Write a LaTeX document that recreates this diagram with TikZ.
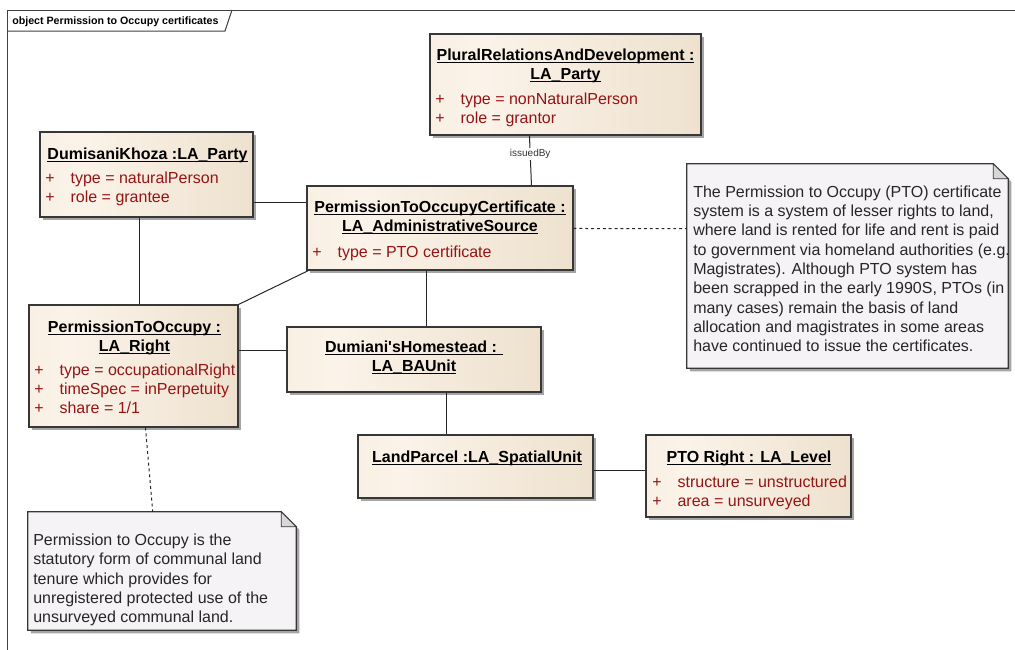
\documentclass[tikz,border=0pt]{standalone}
\usepackage{fontspec}
\setmainfont{Liberation Sans}
\usetikzlibrary{calc,shadows}

\definecolor{objL}{RGB}{245,232,216}
\definecolor{objM}{RGB}{251,243,233}
\definecolor{objR}{RGB}{230,214,190}
\definecolor{attrred}{RGB}{150,20,20}
\definecolor{notebg}{RGB}{246,243,247}
\definecolor{foldbg}{RGB}{215,215,215}
\definecolor{edgegray}{RGB}{55,55,55}
\definecolor{shadowgray}{RGB}{165,165,165}
\pgfdeclarehorizontalshading{objshade}{100bp}{color(0bp)=(objL); color(35bp)=(objM); color(100bp)=(objR)}

% underlined title text with a rule just below the baseline
\newcommand\ultext[1]{\setbox0\hbox{#1}\rlap{\rule[-1.9pt]{\wd0}{0.75pt}}\box0}
% one attribute line: visibility marker followed by the slot value
\newcommand\attrline[1]{\makebox[19pt][l]{+}#1}
% note outline with folded top-right corner
\newcommand\drawnote[1]{%
  \draw[notebody] (#1.north west) -- ($(#1.north east)+(-15,0)$) -- ($(#1.north east)+(0,15)$)
      -- (#1.south east) -- (#1.south west) -- cycle;
  \draw[notefold] ($(#1.north east)+(-15,0)$) -- ($(#1.north east)+(-15,15)$) -- ($(#1.north east)+(0,15)$) -- cycle;}

\tikzset{
  objbox/.style={rectangle, draw=edgegray, line width=0.8pt, shading=objshade, inner sep=0pt,
    drop shadow={shadow xshift=2.4pt, shadow yshift=-2.4pt, fill=shadowgray, opacity=1}},
  notearea/.style={rectangle, draw=none, inner sep=0pt},
  notebody/.style={draw=edgegray, line width=0.8pt, fill=notebg,
    drop shadow={shadow xshift=2.4pt, shadow yshift=-2.4pt, fill=shadowgray, opacity=1}},
  notefold/.style={draw=edgegray, line width=0.6pt, fill=foldbg},
  ttl/.style={anchor=base, inner sep=0pt, font=\fontsize{12}{14.25}\selectfont\bfseries},
  attr/.style={anchor=base west, inner sep=0pt, text=attrred, font=\fontsize{12}{14.25}\selectfont},
  notetext/.style={anchor=base west, inner sep=0pt, text=black!85, font=\fontsize{12}{14.5}\selectfont},
  conn/.style={draw=black!85, line width=0.75pt},
  notelink/.style={conn, dash pattern=on 2.2pt off 2.2pt},
  frame/.style={draw=black!75, line width=0.75pt},
  edgelabel/.style={fill=white, inner sep=1pt, font=\fontsize{7.5}{9}\selectfont, text=black!80}
}

\begin{document}
\begin{tikzpicture}[x=0.75pt, y=-0.75pt]
\useasboundingbox (0,0) rectangle (1015,650);

% diagram frame and its name tab
\draw[frame] (7,650) -- (7,10) -- (1015,10);
\draw[frame] (7,31) -- (225,31) -- (232,10);
\node[anchor=base west, inner sep=0pt, font=\fontsize{8}{9.6}\selectfont\bfseries] (frametitle) at (12,24)
  {object Permission to Occupy certificates};

% object instances
\node[objbox, minimum width=203.25pt, minimum height=75.75pt] (plural) at (565.5,84.5) {};
\node[objbox, minimum width=159.75pt, minimum height=63.75pt] (dk) at (146.5,174.5) {};
\node[objbox, minimum width=199.5pt, minimum height=63pt] (cert) at (440,228) {};
\node[objbox, minimum width=156.75pt, minimum height=91.5pt] (pto) at (133.5,366) {};
\node[objbox, minimum width=190.5pt, minimum height=48.75pt] (home) at (414,359.5) {};
\node[objbox, minimum width=176.25pt, minimum height=47.25pt] (lp) at (475.5,466.5) {};
\node[objbox, minimum width=153.75pt, minimum height=61.5pt] (level) at (748.5,476) {};

% notes
\node[notearea, minimum width=240.75pt, minimum height=153pt] (note1) at (847.5,266) {};
\node[notearea, minimum width=201pt, minimum height=88.5pt] (note2) at (162,571) {};
\drawnote{note1}
\drawnote{note2}

% titles
\node[ttl] (pluralT) at (565.5,60.5) {\begin{tabular}[t]{@{}c@{}}\ultext{PluralRelationsAndDevelopment :}\\\ultext{LA\_Party}\end{tabular}};
\node[ttl] (dkT) at (147.5,159.5) {\ultext{DumisaniKhoza :LA\_Party}};
\node[ttl] (certT) at (440,212.5) {\begin{tabular}[t]{@{}c@{}}\ultext{PermissionToOccupyCertificate :}\\\ultext{LA\_AdministrativeSource}\end{tabular}};
\node[ttl] (ptoT) at (134.5,332.5) {\begin{tabular}[t]{@{}c@{}}\ultext{PermissionToOccupy :}\\\ultext{LA\_Right}\end{tabular}};
\node[ttl] (homeT) at (414,352.5) {\begin{tabular}[t]{@{}c@{}}\ultext{Dumiani\textquotesingle sHomestead : }\\\ultext{LA\_BAUnit}\end{tabular}};
\node[ttl] (lpT) at (477,462.5) {\ultext{LandParcel :LA\_SpatialUnit}};
\node[ttl] (levelT) at (749,462.5) {\ultext{PTO Right : LA\_Level}};

% attribute slots
\node[attr] (pluralA) at (435,104.5) {\begin{tabular}[t]{@{}l@{}}\attrline{type = nonNaturalPerson}\\\attrline{role = grantor}\end{tabular}};
\node[attr] (dkA) at (45,183.5) {\begin{tabular}[t]{@{}l@{}}\attrline{type = naturalPerson}\\\attrline{role = grantee}\end{tabular}};
\node[attr] (certA) at (312,257.5) {\attrline{type = PTO certificate}};
\node[attr] (ptoA) at (34,375.5) {\begin{tabular}[t]{@{}l@{}}\attrline{type = occupationalRight}\\\attrline{timeSpec = inPerpetuity}\\\attrline{share = 1/1}\end{tabular}};
\node[attr] (levelA) at (652,487.5) {\begin{tabular}[t]{@{}l@{}}\attrline{structure = unstructured}\\\attrline{area = unsurveyed}\end{tabular}};

% note texts
\node[notetext] (note1T) at (693,197) {\begin{tabular}[t]{@{}l@{}}
The Permission to Occupy (PTO) certificate\\
system is a system of lesser rights to land,\\
where land is rented for life and rent is paid\\
to government via homeland authorities (e.g.\\
Magistrates). Although PTO system has\\
been scrapped in the early 1990S, PTOs (in\\
many cases) remain the basis of land\\
allocation and magistrates in some areas\\
have continued to issue the certificates.\end{tabular}};
\node[notetext] (note2T) at (33,545.5) {\begin{tabular}[t]{@{}l@{}}
Permission to Occupy is the\\
statutory form of communal land\\
tenure which provides for\\
unregistered protected use of the\\
unsurveyed communal land.\end{tabular}};

% links between instances
\draw[conn] ($(plural.south west)+(100,0)$) -- node[edgelabel, pos=0.37] (issued) {issuedBy} ($(cert.north west)+(225,0)$);
\draw[conn] ($(dk.north east)+(0,71)$) -- ($(cert.north west)+(0,17)$);
\draw[conn] ($(dk.south west)+(100,0)$) -- ($(pto.north west)+(111,0)$);
\draw[conn] (pto.north east) -- ($(cert.south west)+(2,0)$);
\draw[conn] ($(pto.north east)+(0,46)$) -- ($(home.north west)+(0,24)$);
\draw[conn] ($(cert.south west)+(120,0)$) -- ($(home.north west)+(140,0)$);
\draw[conn] ($(home.south west)+(160,0)$) -- ($(lp.north west)+(89,0)$);
\draw[conn] ($(lp.north east)+(0,36)$) -- ($(level.north west)+(0,36)$);

% note attachments
\draw[notelink] ($(cert.north east)+(0,43)$) -- ($(note1.north west)+(0,65)$);
\draw[notelink] ($(pto.south west)+(117,0)$) -- ($(note2.north west)+(125,0)$);
\end{tikzpicture}
\end{document}
